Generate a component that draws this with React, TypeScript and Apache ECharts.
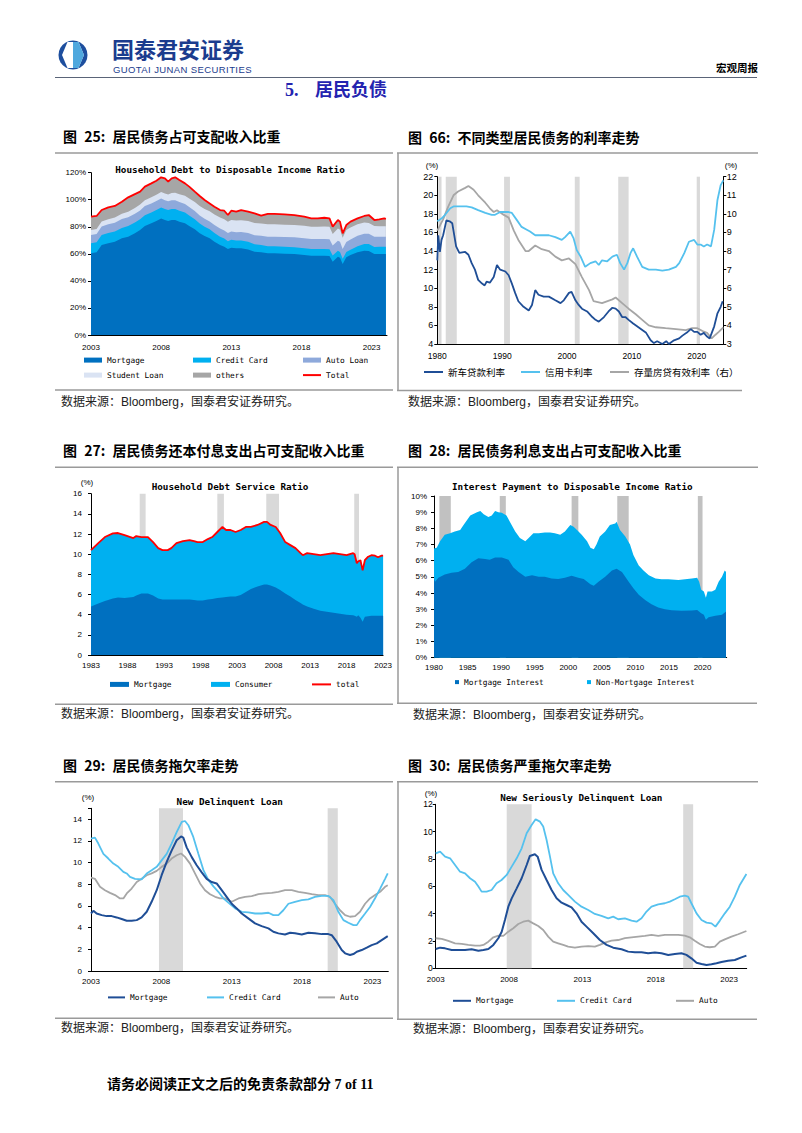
import React, { useEffect, useRef } from 'react';
import * as echarts from 'echarts';

// ---------------- 图 25: Household Debt to Disposable Income Ratio (%) ----------------
const yrs25 = [2003.0, 2003.4, 2003.76, 2004.23, 2004.7, 2005.2, 2005.65, 2006.13, 2006.5, 2006.84, 2007.3, 2007.66, 2008.0, 2008.27, 2008.5, 2008.75, 2009.0, 2009.3, 2009.7, 2010.0, 2010.4, 2010.75, 2011.1, 2011.46, 2011.8, 2012.2, 2012.5, 2012.76, 2013.0, 2013.35, 2013.7, 2014.2, 2014.66, 2015.13, 2015.6, 2016.08, 2016.8, 2017.5, 2018.2, 2018.7, 2019.16, 2019.63, 2020.0, 2020.23, 2020.6, 2020.75, 2020.94, 2021.2, 2021.5, 2022.0, 2022.48, 2022.8, 2023.2, 2023.55, 2023.9, 2024.02];
const mortgage25 = [60.4, 61.1, 66.5, 67.8, 69, 71.5, 72.7, 75.2, 77.6, 80.6, 82.6, 84.3, 86.2, 85, 84.3, 85, 85, 83.8, 82.6, 80.6, 78.1, 75.2, 73.2, 71.5, 69, 66.5, 65.3, 63.6, 64.6, 64.1, 64.1, 63.3, 61.6, 61.1, 60.4, 60.4, 60.1, 59.9, 59.1, 58.6, 58.6, 58.6, 58.4, 54.2, 57.9, 57.2, 52.5, 57.4, 59.1, 61.1, 62.3, 62.1, 59.9, 59.9, 59.9, 59.9];
const creditCard25 = [7.4, 7.4, 7.5, 7.6, 7.6, 7.7, 7.8, 7.9, 7.9, 8.0, 8.0, 8.1, 8.1, 8.1, 8.1, 8.2, 8.2, 8.1, 8.0, 7.8, 7.5, 7.2, 6.9, 6.6, 6.4, 6.2, 6.0, 5.8, 5.8, 5.7, 5.7, 5.6, 5.5, 5.4, 5.3, 5.2, 5.1, 5.0, 5.0, 4.9, 4.9, 5.0, 5.0, 4.6, 4.3, 4.2, 3.8, 3.9, 4.0, 4.5, 4.9, 5.1, 5.2, 5.3, 5.4, 5.4];
const autoLoan25 = [6.2, 6.2, 6.3, 6.4, 6.4, 6.5, 6.5, 6.6, 6.6, 6.7, 6.7, 6.7, 6.7, 6.6, 6.5, 6.5, 6.5, 6.4, 6.3, 6.2, 6.1, 6.0, 5.9, 5.9, 5.9, 6.0, 6.0, 6.0, 6.1, 6.2, 6.3, 6.5, 6.7, 6.9, 7.0, 7.1, 7.2, 7.3, 7.4, 7.4, 7.4, 7.4, 7.4, 7.3, 7.5, 7.5, 7.3, 7.5, 7.6, 7.7, 7.7, 7.6, 7.5, 7.4, 7.4, 7.4];
const studentLoan25 = [3.6, 3.6, 3.7, 3.8, 3.9, 4.0, 4.1, 4.2, 4.3, 4.4, 4.5, 4.6, 4.8, 4.9, 5.0, 5.2, 5.4, 5.7, 6.0, 6.3, 6.6, 6.9, 7.2, 7.5, 7.8, 8.1, 8.3, 8.3, 8.6, 8.7, 8.8, 8.9, 9.0, 9.0, 9.1, 9.2, 9.2, 9.2, 9.2, 9.2, 9.2, 9.2, 9.2, 8.6, 9.0, 8.9, 8.3, 8.8, 8.8, 8.6, 8.3, 8.1, 7.9, 7.8, 7.7, 7.7];
const others25 = [9.9, 9.7, 8.4, 8.8, 8.5, 8.9, 10.7, 10.3, 9.6, 10.0, 10.3, 10.4, 10.8, 11.2, 9.5, 10.9, 11.5, 10.6, 9.2, 8.8, 7.7, 7.5, 6.6, 5.8, 5.8, 5.6, 6.3, 5.0, 6.8, 6.5, 7.5, 6.9, 7.1, 5.8, 7.7, 7.6, 7.6, 7.3, 6.8, 6.1, 6.1, 6.5, 6.2, 5.4, 6.3, 6.0, 3.3, 3.7, 4.3, 4.3, 4.8, 5.8, 4.5, 5.1, 5.8, 5.4];
const total25 = [87.5, 88, 92.4, 94.4, 95.4, 98.6, 101.8, 104.2, 106, 109.7, 112.1, 114.1, 116.6, 115.8, 113.4, 115.8, 116.6, 114.6, 112.1, 109.7, 106, 102.8, 99.8, 97.3, 94.9, 92.4, 91.9, 88.7, 91.9, 91.2, 92.4, 91.2, 89.9, 88.2, 89.5, 89.5, 89.2, 88.7, 87.5, 86.2, 86.2, 86.7, 86.2, 80.1, 85, 83.8, 75.2, 81.3, 83.8, 86.2, 88, 88.7, 85, 85.5, 86.2, 85.8];
const names25 = ['Mortgage', 'Credit Card', 'Auto Loan', 'Student Loan', 'others'];
const colors25 = ['#0070C0', '#00B0F0', '#8EA9DB', '#DAE3F3', '#A6A6A6'];
const yTicks25 = { min: 0, max: 120, step: 20 };

// ---------------- 图 66: 不同类型居民债务的利率走势 ----------------
const carYrs66 = [1980.0, 1980.15, 1980.4, 1980.65, 1980.9, 1981.4, 1981.9, 1982.3, 1982.9, 1983.4, 1984.3, 1984.8, 1985.3, 1985.8, 1986.3, 1986.9, 1987.3, 1987.6, 1988.1, 1988.7, 1989.2, 1989.7, 1990.5, 1991.0, 1991.5, 1992.0, 1992.5, 1993.3, 1994.1, 1994.6, 1995.1, 1995.6, 1996.4, 1997.2, 1998.2, 1999.0, 1999.5, 2000.3, 2000.7, 2001.3, 2001.8, 2002.3, 2003.1, 2003.9, 2004.4, 2004.9, 2005.7, 2006.4, 2007.0, 2007.5, 2008.0, 2008.5, 2009.0, 2009.5, 2010.2, 2010.8, 2011.6, 2012.2, 2012.9, 2013.4, 2013.9, 2014.7, 2015.3, 2015.7, 2016.5, 2017.3, 2017.8, 2018.6, 2019.1, 2019.6, 2020.1, 2020.6, 2021.1, 2021.6, 2022.0, 2022.7, 2023.2, 2023.7, 2024.0];
const carLoan66 = [13.0, 15.7, 13.9, 15.2, 15.7, 17.3, 17.2, 17.0, 14.5, 13.8, 13.9, 13.6, 12.7, 12.0, 10.9, 10.5, 10.3, 10.7, 10.6, 11.2, 12.5, 12.0, 11.8, 11.4, 10.5, 9.5, 8.6, 8.0, 7.6, 8.2, 9.8, 9.3, 9.1, 9.1, 8.7, 8.4, 8.7, 9.5, 9.6, 8.7, 8.2, 7.8, 7.5, 6.9, 6.6, 6.4, 6.9, 7.5, 7.9, 7.8, 7.5, 6.9, 6.9, 6.6, 6.2, 5.9, 5.5, 5.2, 4.4, 4.1, 4.3, 4.0, 4.3, 4.0, 4.4, 4.6, 4.9, 5.3, 5.6, 5.3, 5.3, 5.0, 5.2, 4.8, 4.6, 5.9, 7.3, 8.0, 8.6];
const cardYrs66 = [1980.0, 1980.65, 1981.2, 1982.0, 1982.5, 1983.2, 1984.0, 1984.5, 1985.3, 1986.3, 1987.4, 1988.4, 1988.9, 1989.7, 1991.0, 1991.5, 1992.3, 1993.0, 1993.8, 1994.3, 1995.1, 1996.1, 1997.2, 1998.2, 1999.2, 1999.7, 2000.5, 2001.0, 2001.5, 2002.1, 2002.8, 2003.6, 2004.4, 2004.9, 2005.4, 2006.2, 2007.0, 2007.7, 2008.2, 2008.8, 2009.3, 2009.8, 2010.2, 2010.8, 2011.6, 2012.6, 2013.7, 2014.7, 2015.7, 2016.8, 2017.3, 2018.1, 2018.8, 2019.6, 2020.1, 2020.6, 2021.1, 2021.6, 2022.2, 2022.7, 2023.2, 2023.7, 2024.1];
const card66 = [17.2, 17.5, 17.9, 18.6, 18.8, 18.8, 18.8, 18.8, 18.7, 18.4, 18.1, 17.9, 17.9, 18.2, 18.2, 18.1, 17.3, 16.6, 16.3, 16.1, 15.7, 15.7, 15.7, 15.5, 15.2, 15.5, 16.1, 15.4, 14.1, 13.4, 12.3, 12.7, 12.9, 12.5, 13.0, 12.9, 13.4, 13.6, 12.7, 12.0, 12.7, 13.8, 14.3, 13.4, 12.3, 12.0, 12.0, 11.9, 12.0, 12.3, 12.7, 13.8, 15.0, 15.2, 14.7, 14.7, 14.5, 14.7, 14.5, 16.3, 19.5, 21.1, 21.6];
const mortYrs66 = [1980.0, 1980.9, 1981.7, 1982.5, 1983.2, 1984.3, 1984.8, 1985.6, 1986.3, 1987.4, 1988.1, 1988.7, 1989.2, 1990.0, 1991.0, 1991.8, 1992.5, 1993.6, 1994.1, 1995.1, 1996.1, 1997.2, 1998.2, 1999.2, 2000.3, 2001.3, 2002.3, 2003.4, 2004.1, 2005.4, 2007.0, 2007.5, 2008.5, 2009.5, 2010.6, 2011.6, 2012.6, 2013.7, 2015.2, 2016.8, 2018.3, 2019.3, 2020.1, 2020.9, 2021.6, 2022.3, 2022.9, 2023.4, 2024.1];
const mortRate66 = [9.1, 9.7, 10.4, 11.0, 11.2, 11.4, 11.5, 11.3, 11.0, 10.6, 10.3, 10.1, 10.2, 10.0, 9.8, 9.1, 8.6, 8.0, 8.0, 8.3, 8.1, 8.0, 7.7, 7.5, 7.6, 7.3, 6.6, 5.9, 5.3, 5.2, 5.4, 5.5, 5.2, 4.9, 4.6, 4.3, 4.0, 3.9, 3.85, 3.8, 3.75, 3.85, 3.85, 3.7, 3.6, 3.3, 3.5, 3.65, 3.9];
const bands66 = [[1980.15, 1980.65], [1981.3, 1983.0], [1990.3, 1991.2], [2001.2, 2001.95], [2007.9, 2009.5], [2020.0, 2020.5]];

// ---------------- 图 27: Household Debt Service Ratio ----------------
const yrs27 = [1983.0, 1984.0, 1984.9, 1986.0, 1986.7, 1987.6, 1988.8, 1989.2, 1989.9, 1990.8, 1991.5, 1992.2, 1992.8, 1993.5, 1994.0, 1994.7, 1995.6, 1996.5, 1997.1, 1997.6, 1998.3, 1999.0, 1999.6, 2000.3, 2001.0, 2001.5, 2002.1, 2002.8, 2003.5, 2004.2, 2004.9, 2005.8, 2006.7, 2007.1, 2007.6, 2008.3, 2008.9, 2009.6, 2010.3, 2011.0, 2011.7, 2012.0, 2012.6, 2013.5, 2014.4, 2015.3, 2016.2, 2017.1, 2018.0, 2018.9, 2019.1, 2019.4, 2019.6, 2019.9, 2020.2, 2020.5, 2020.95, 2021.4, 2021.9, 2022.3, 2022.8, 2023.0];
const total27 = [10.4, 11.1, 11.7, 12.07, 12.1, 11.9, 11.6, 11.8, 11.7, 11.7, 11.2, 10.6, 10.4, 10.4, 10.6, 11.1, 11.3, 11.4, 11.3, 11.2, 11.2, 11.5, 11.7, 12.2, 12.7, 12.4, 12.4, 12.2, 12.4, 12.7, 12.7, 12.9, 13.2, 13.2, 12.9, 12.7, 12.1, 11.2, 10.9, 10.6, 10.1, 9.9, 10.1, 10.0, 9.9, 10.0, 10.1, 10.0, 9.9, 10.1, 10.0, 9.1, 9.3, 9.4, 8.4, 9.4, 9.75, 9.9, 9.85, 9.7, 9.85, 9.85];
const mortgage27 = [4.8, 5.1, 5.35, 5.6, 5.7, 5.65, 5.75, 5.9, 6.1, 6.1, 5.9, 5.6, 5.5, 5.5, 5.5, 5.5, 5.5, 5.5, 5.45, 5.4, 5.4, 5.5, 5.55, 5.65, 5.7, 5.75, 5.8, 5.8, 5.95, 6.25, 6.55, 6.8, 7.0, 7.0, 6.9, 6.7, 6.45, 6.1, 5.8, 5.45, 5.15, 5.0, 4.8, 4.6, 4.4, 4.3, 4.2, 4.1, 4.0, 3.95, 3.9, 3.8, 3.95, 3.7, 3.3, 3.8, 3.85, 3.9, 3.9, 3.9, 3.9, 3.9];
const bands27 = [[1989.67, 1990.48], [2000.3, 2001.2], [2007.0, 2008.75], [2019.05, 2019.7]];

// ---------------- 图 28: Interest Payment to Disposable Income Ratio ----------------
const totYrs28 = [1980.0, 1980.4, 1980.9, 1981.6, 1982.4, 1983.1, 1983.9, 1984.4, 1984.9, 1985.4, 1986.4, 1986.9, 1987.4, 1988.1, 1988.6, 1989.1, 1989.6, 1990.1, 1990.8, 1991.3, 1992.1, 1992.8, 1993.6, 1994.1, 1994.8, 1995.6, 1996.5, 1997.3, 1998.0, 1998.8, 1999.5, 2000.3, 2000.8, 2001.3, 2002.0, 2002.8, 2003.3, 2003.8, 2004.2, 2004.7, 2005.5, 2006.2, 2007.0, 2007.2, 2007.7, 2008.5, 2009.2, 2009.7, 2010.5, 2011.2, 2012.0, 2013.0, 2013.9, 2014.9, 2016.4, 2017.4, 2018.4, 2019.2, 2019.5, 2019.8, 2020.2, 2020.5, 2020.75, 2021.4, 2021.9, 2022.4, 2022.9, 2023.3, 2023.5];
const total28 = [6.76, 6.8, 7.2, 7.6, 7.7, 7.8, 7.9, 8.2, 8.5, 8.8, 9.0, 9.07, 8.87, 8.7, 8.8, 9.07, 8.99, 8.97, 8.8, 8.4, 7.8, 7.4, 7.2, 7.4, 7.7, 7.7, 7.75, 7.75, 7.7, 7.6, 7.8, 8.2, 8.1, 7.9, 7.6, 7.2, 6.8, 6.7, 7.0, 7.5, 7.8, 8.2, 8.3, 8.4, 7.9, 7.5, 7.0, 6.35, 5.7, 5.4, 5.1, 4.9, 4.85, 4.85, 4.8, 4.85, 4.9, 4.95, 4.7, 4.2, 4.1, 3.7, 4.1, 4.1, 4.2, 4.7, 5.0, 5.4, 5.3];
const mortYrs28 = [1980.0, 1980.15, 1980.65, 1981.6, 1982.6, 1983.6, 1984.6, 1985.6, 1986.6, 1987.6, 1988.3, 1989.1, 1990.1, 1991.1, 1991.8, 1992.6, 1993.6, 1994.6, 1995.6, 1996.5, 1997.5, 1998.5, 1999.5, 2000.5, 2001.5, 2002.3, 2003.3, 2003.8, 2004.5, 2005.5, 2006.5, 2007.2, 2008.0, 2009.0, 2009.7, 2010.5, 2011.5, 2012.4, 2013.4, 2014.4, 2015.4, 2016.9, 2018.4, 2019.2, 2019.8, 2020.2, 2020.5, 2020.9, 2021.9, 2022.9, 2023.5];
const mortgage28 = [4.9, 4.7, 4.95, 5.15, 5.25, 5.3, 5.5, 5.9, 6.15, 6.1, 6.05, 6.2, 6.2, 6.05, 5.6, 5.3, 5.0, 5.1, 5.0, 5.0, 4.9, 4.87, 4.95, 5.07, 4.95, 4.87, 4.55, 4.45, 4.7, 5.0, 5.4, 5.5, 5.3, 4.7, 4.3, 3.9, 3.55, 3.3, 3.1, 3.0, 2.93, 2.9, 2.92, 2.95, 2.75, 2.65, 2.35, 2.5, 2.6, 2.65, 2.85];
const bands28 = [[1980.8, 1982.5], [1989.8, 1990.7], [2000.5, 2001.5], [2007.3, 2009.0], [2019.3, 2020.0]];

// ---------------- 图 29: New Delinquent Loan ----------------
const mortYrs29 = [2003.0, 2003.17, 2003.4, 2003.76, 2004.11, 2004.47, 2004.82, 2005.18, 2005.54, 2005.89, 2006.25, 2006.6, 2006.96, 2007.31, 2007.67, 2008.02, 2008.38, 2008.73, 2009.09, 2009.4, 2009.56, 2009.8, 2010.16, 2010.51, 2010.87, 2011.22, 2011.58, 2011.93, 2012.29, 2012.64, 2013.0, 2013.36, 2013.71, 2014.18, 2014.66, 2015.13, 2015.61, 2015.96, 2016.32, 2016.79, 2017.15, 2017.5, 2017.98, 2018.45, 2018.92, 2019.4, 2019.87, 2020.11, 2020.46, 2020.82, 2021.06, 2021.41, 2021.65, 2021.89, 2022.24, 2022.6, 2022.95, 2023.31, 2023.66, 2024.09];
const mortgage29 = [5.3, 5.55, 5.3, 5.15, 5.06, 5.06, 4.94, 4.79, 4.63, 4.63, 4.69, 4.94, 5.46, 6.38, 7.45, 8.83, 10.06, 11.1, 12.05, 12.4, 12.3, 11.4, 10.5, 9.75, 9.1, 8.5, 8.2, 8.07, 7.45, 6.84, 6.2, 5.77, 5.3, 4.85, 4.39, 4.14, 3.93, 3.62, 3.47, 3.37, 3.53, 3.47, 3.37, 3.53, 3.47, 3.4, 3.4, 3.3, 2.7, 1.93, 1.63, 1.47, 1.56, 1.78, 1.93, 2.15, 2.39, 2.55, 2.85, 3.22];
const cardYrs29 = [2003.0, 2003.28, 2003.52, 2003.88, 2004.23, 2004.59, 2004.94, 2005.3, 2005.54, 2005.77, 2006.13, 2006.6, 2006.96, 2007.31, 2007.67, 2008.02, 2008.38, 2008.73, 2009.09, 2009.45, 2009.68, 2009.92, 2010.27, 2010.63, 2010.99, 2011.34, 2011.7, 2012.05, 2012.41, 2012.76, 2013.24, 2013.71, 2014.18, 2014.66, 2015.13, 2015.61, 2015.96, 2016.32, 2016.67, 2017.03, 2017.5, 2017.98, 2018.45, 2018.92, 2019.4, 2019.87, 2020.23, 2020.58, 2020.94, 2021.29, 2021.65, 2021.89, 2022.12, 2022.48, 2022.83, 2023.19, 2023.55, 2023.9, 2024.09];
const card29 = [12.2, 12.3, 11.75, 10.8, 10.37, 9.9, 9.6, 9.14, 8.99, 8.68, 8.5, 8.44, 8.99, 9.29, 9.6, 10.2, 10.8, 11.75, 12.8, 13.74, 13.83, 13.44, 12.36, 10.8, 9.3, 8.4, 7.8, 7.3, 6.7, 6.3, 5.77, 5.46, 5.4, 5.3, 5.3, 5.37, 5.15, 5.15, 5.6, 6.2, 6.38, 6.53, 6.6, 6.84, 6.93, 6.93, 6.53, 5.46, 4.69, 4.45, 4.23, 4.23, 4.69, 5.3, 5.9, 6.7, 7.6, 8.5, 9.0];
const autoYrs29 = [2003.0, 2003.28, 2003.64, 2003.99, 2004.35, 2004.71, 2005.06, 2005.3, 2005.54, 2005.89, 2006.25, 2006.6, 2006.96, 2007.31, 2007.67, 2008.02, 2008.38, 2008.73, 2009.09, 2009.4, 2009.68, 2010.04, 2010.39, 2010.75, 2011.1, 2011.46, 2011.82, 2012.17, 2012.53, 2013.0, 2013.48, 2013.95, 2014.42, 2014.9, 2015.37, 2015.85, 2016.32, 2016.79, 2017.27, 2017.74, 2018.21, 2018.69, 2019.16, 2019.63, 2019.98, 2020.34, 2020.7, 2021.06, 2021.41, 2021.77, 2022.12, 2022.48, 2022.83, 2023.19, 2023.55, 2023.9, 2024.09];
const auto29 = [8.6, 8.5, 7.76, 7.45, 7.2, 7.0, 6.69, 6.69, 7.15, 7.6, 8.2, 8.5, 8.83, 9.0, 9.23, 9.6, 9.9, 10.37, 10.67, 10.83, 10.52, 9.9, 9.0, 8.07, 7.45, 7.08, 6.84, 6.69, 6.69, 6.38, 6.69, 6.84, 6.9, 7.08, 7.15, 7.2, 7.3, 7.45, 7.45, 7.3, 7.2, 7.08, 7.0, 7.0, 6.84, 6.2, 5.6, 5.15, 5.0, 5.06, 5.46, 6.2, 6.69, 7.0, 7.3, 7.76, 7.9];
const bands29 = [[2007.83, 2009.54], [2019.82, 2020.54]];

// ---------------- 图 30: New Seriously Delinquent Loan ----------------
const mortYrs30 = [2003.0, 2003.3, 2003.64, 2004.09, 2004.54, 2005.0, 2005.45, 2005.91, 2006.25, 2006.59, 2006.93, 2007.27, 2007.5, 2007.72, 2007.95, 2008.18, 2008.52, 2008.86, 2009.2, 2009.42, 2009.76, 2009.95, 2010.22, 2010.56, 2010.9, 2011.24, 2011.58, 2011.92, 2012.26, 2012.6, 2012.94, 2013.28, 2013.74, 2014.19, 2014.65, 2015.1, 2015.67, 2016.12, 2016.58, 2017.03, 2017.48, 2017.94, 2018.39, 2018.85, 2019.3, 2019.75, 2020.09, 2020.43, 2020.78, 2021.12, 2021.46, 2021.8, 2022.14, 2022.48, 2022.93, 2023.39, 2023.84, 2024.18];
const mortgage30 = [1.41, 1.51, 1.46, 1.34, 1.34, 1.34, 1.39, 1.29, 1.34, 1.41, 1.71, 2.2, 2.68, 3.54, 4.51, 5.12, 5.85, 6.59, 7.56, 8.22, 8.34, 8.17, 7.2, 6.46, 5.73, 5.12, 4.8, 4.63, 4.46, 4.02, 3.41, 3.05, 2.56, 2.07, 1.71, 1.51, 1.39, 1.22, 1.17, 1.17, 1.1, 1.15, 1.1, 0.98, 1.05, 1.1, 0.98, 0.73, 0.41, 0.32, 0.24, 0.29, 0.37, 0.46, 0.56, 0.61, 0.8, 0.93];
const cardYrs30 = [2003.0, 2003.3, 2003.64, 2003.98, 2004.32, 2004.66, 2005.0, 2005.34, 2005.68, 2005.91, 2006.13, 2006.47, 2006.81, 2007.15, 2007.49, 2007.84, 2008.18, 2008.52, 2008.86, 2009.2, 2009.54, 2009.81, 2010.11, 2010.33, 2010.56, 2010.79, 2011.01, 2011.35, 2011.69, 2012.03, 2012.49, 2012.94, 2013.4, 2013.85, 2014.3, 2014.76, 2015.1, 2015.44, 2015.9, 2016.35, 2016.69, 2017.03, 2017.37, 2017.71, 2018.17, 2018.62, 2018.96, 2019.3, 2019.64, 2019.98, 2020.21, 2020.43, 2020.78, 2021.12, 2021.46, 2021.8, 2022.07, 2022.37, 2022.71, 2023.05, 2023.39, 2023.73, 2024.18];
const card30 = [8.41, 8.54, 8.17, 8.05, 7.56, 7.07, 6.95, 6.59, 6.34, 5.98, 5.61, 5.61, 5.73, 6.22, 6.46, 6.83, 7.44, 8.05, 8.78, 9.88, 10.49, 10.9, 10.73, 10.37, 9.39, 8.17, 6.95, 6.22, 5.73, 5.37, 4.88, 4.51, 4.27, 3.98, 3.83, 3.66, 3.78, 3.59, 3.66, 3.49, 3.41, 3.66, 4.15, 4.51, 4.68, 4.76, 4.88, 5.05, 5.24, 5.32, 5.24, 4.76, 4.02, 3.54, 3.34, 3.29, 3.05, 3.49, 4.02, 4.51, 5.24, 6.1, 6.9];
const autoYrs30 = [2003.0, 2003.41, 2003.86, 2004.32, 2004.77, 2005.22, 2005.68, 2006.02, 2006.25, 2006.59, 2006.93, 2007.27, 2007.61, 2007.95, 2008.29, 2008.63, 2008.97, 2009.31, 2009.65, 2009.99, 2010.33, 2010.67, 2011.01, 2011.35, 2011.69, 2012.03, 2012.49, 2012.94, 2013.4, 2013.85, 2014.19, 2014.53, 2014.99, 2015.44, 2015.9, 2016.35, 2016.8, 2017.26, 2017.71, 2018.17, 2018.62, 2019.07, 2019.53, 2019.98, 2020.32, 2020.66, 2021.0, 2021.34, 2021.68, 2022.03, 2022.37, 2022.71, 2023.16, 2023.62, 2024.18];
const auto30 = [2.2, 2.15, 2.0, 1.83, 1.78, 1.71, 1.66, 1.66, 1.71, 1.95, 2.27, 2.39, 2.37, 2.68, 2.93, 3.24, 3.41, 3.49, 3.29, 3.1, 2.8, 2.32, 1.95, 1.83, 1.71, 1.59, 1.51, 1.59, 1.63, 1.59, 1.71, 1.88, 2.02, 2.07, 2.2, 2.27, 2.32, 2.37, 2.44, 2.37, 2.44, 2.44, 2.44, 2.39, 2.27, 2.02, 1.78, 1.59, 1.54, 1.59, 1.95, 2.12, 2.32, 2.49, 2.73];
const bands30 = [[2007.84, 2009.54], [2019.87, 2020.55]];

// ---------------- helpers ----------------
const MONO = '"DejaVu Sans Mono", monospace';
const SANS = '"Liberation Sans", Arial, sans-serif';
const CJK = '"Noto Sans CJK SC", sans-serif';
const SANS_CJK = '"Liberation Sans", "Noto Sans CJK SC", sans-serif';
const DARK_LINE = '#1F4E96';
const LIGHT_LINE = '#55C1EE';
const GRAY_LINE = '#A6A6A6';

const pairs = (xs: number[], ys: number[]) => xs.map((x, i) => [x, ys[i]]);

function xAxisOf(min: number, max: number, interval: number, margin: number, fs = 8) {
  return {
    type: 'value', min, max, interval,
    axisLine: { show: true, onZero: false, lineStyle: { color: '#000', width: 1 } },
    axisTick: { show: false },
    splitLine: { show: false },
    axisLabel: {
      margin, fontSize: fs, fontFamily: SANS, color: '#000', hideOverlap: false,
      formatter: (v: number) => (Math.abs((v - min) % interval) < 1e-6 ? String(Math.round(v)) : ''),
    },
  };
}

function yAxisOf(min: number, max: number, interval: number, margin: number, suffix = '', position = 'left', fs = 8) {
  return {
    type: 'value', min, max, interval, position,
    axisLine: { show: true, lineStyle: { color: '#000', width: 1 } },
    axisTick: { show: true, length: 3, lineStyle: { color: '#000' } },
    splitLine: { show: false },
    axisLabel: {
      margin, fontSize: fs, fontFamily: SANS, color: '#000',
      formatter: (v: number) => (Math.abs((v - min) % interval) < 1e-6 ? String(Math.round(v * 100) / 100) + suffix : ''),
    },
  };
}

function areaSeries(name: string, data: any[], color: string, extra: any = {}) {
  return {
    type: 'line', name, data, symbol: 'none', silent: true,
    lineStyle: { width: 0, color }, itemStyle: { color },
    areaStyle: { color, opacity: 1 }, ...extra,
  };
}

function lineSeries(name: string, data: any[], color: string, width: number, extra: any = {}) {
  return {
    type: 'line', name, data, symbol: 'none', silent: true,
    lineStyle: { width, color }, itemStyle: { color }, ...extra,
  };
}

function bandsArea(bands: number[][], color: string, z?: number) {
  const m: any = {
    silent: true, label: { show: false }, itemStyle: { color, borderWidth: 0 },
    data: bands.map(([a, b]) => [{ xAxis: a }, { xAxis: b }]),
  };
  if (z !== undefined) m.z = z;
  return m;
}

// every legend icon is a plain rectangle (a thin one stands for a line)
function legendOf(name: string, left: number, yc: number, w: number, h: number, fs: number, family: string, color: string) {
  const boxH = Math.max(h, fs);
  return {
    show: true, selectedMode: false, left, top: yc - boxH / 2, padding: 0, itemGap: 0,
    itemWidth: w, itemHeight: h,
    textStyle: { fontSize: fs, fontFamily: family, color: '#000' },
    data: [{ name, icon: 'rect', itemStyle: { color, borderWidth: 0 } }],
  };
}

function txt(x: number, y: number, text: string, fs: number, opts: any = {}) {
  return {
    type: 'text', x, y, silent: true,
    style: {
      text, fontSize: fs, fontFamily: opts.family || SANS, fontWeight: opts.weight || 'normal',
      fill: opts.color || '#000', align: opts.align || 'center', verticalAlign: 'middle',
    },
  };
}

// ---------------- options ----------------
const layers25 = [mortgage25, creditCard25, autoLoan25, studentLoan25, others25];
const cum25 = names25.map((_, k) =>
  yrs25.map((_, i) => {
    let s = 0;
    for (let j = 0; j <= k; j++) s += layers25[j][i];
    return Math.round(s * 100) / 100;
  })
);

const option25 = {
  animation: false,
  grid: { left: 36, top: 17.7, width: 296, height: 162.3, containLabel: false },
  xAxis: xAxisOf(2003, 2024.1, 5, 8),
  yAxis: yAxisOf(yTicks25.min, yTicks25.max, yTicks25.step, 5, '%'),
  series: [
    ...[4, 3, 2, 1, 0].map((k) => areaSeries(names25[k], pairs(yrs25, cum25[k]), colors25[k])),
    lineSeries('Total', pairs(yrs25, total25), '#FF0000', 1.8),
  ],
  legend: [
    legendOf('Mortgage', 29, 205, 18, 5, 7.8, MONO, colors25[0]),
    legendOf('Credit Card', 138, 205, 18, 5, 7.8, MONO, colors25[1]),
    legendOf('Auto Loan', 248, 205, 18, 5, 7.8, MONO, colors25[2]),
    legendOf('Student Loan', 29, 220, 18, 5, 7.8, MONO, colors25[3]),
    legendOf('others', 138, 220, 18, 5, 7.8, MONO, colors25[4]),
    legendOf('Total', 248, 220, 18, 2, 7.8, MONO, '#FF0000'),
  ],
  graphic: [txt(175, 14, 'Household Debt to Disposable Income Ratio', 9.3, { family: MONO, weight: 'bold' })],
};

const option66 = {
  animation: false,
  grid: { left: 38.3, top: 21.7, width: 286, height: 167.3, containLabel: false },
  xAxis: xAxisOf(1980, 2024.1, 10, 7, 8.5),
  yAxis: [yAxisOf(4, 22, 2, 4, '', 'left', 9), yAxisOf(3, 12, 1, 3.5, '', 'right', 9)],
  series: [
    lineSeries('存量房贷有效利率（右）', pairs(mortYrs66, mortRate66), GRAY_LINE, 1.8, {
      yAxisIndex: 1, markArea: bandsArea(bands66, '#D9D9D9'),
    }),
    lineSeries('信用卡利率', pairs(cardYrs66, card66), LIGHT_LINE, 1.8),
    lineSeries('新车贷款利率', pairs(carYrs66, carLoan66), DARK_LINE, 1.8),
  ],
  legend: [
    legendOf('新车贷款利率', 25, 217, 19, 2, 9.5, CJK, DARK_LINE),
    legendOf('信用卡利率', 122, 217, 19, 2, 9.5, CJK, LIGHT_LINE),
    legendOf('存量房贷有效利率（右）', 211, 217, 19, 2, 9.5, CJK, GRAY_LINE),
  ],
  graphic: [txt(33, 10, '(%)', 8), txt(332, 10, '(%)', 8)],
};

const option27 = {
  animation: false,
  grid: { left: 36, top: 24.7, width: 294, height: 161.3, containLabel: false },
  xAxis: xAxisOf(1983, 2023, 5, 6),
  yAxis: yAxisOf(0, 16, 2, 9, ''),
  series: [
    areaSeries('Consumer', pairs(yrs27, total27), '#00B0F0', { markArea: bandsArea(bands27, '#D9D9D9') }),
    areaSeries('Mortgage', pairs(yrs27, mortgage27), '#0070C0'),
    lineSeries('total', pairs(yrs27, total27), '#FF0000', 1.8),
  ],
  legend: [
    legendOf('Mortgage', 55, 215.3, 19, 5, 7.8, MONO, '#0070C0'),
    legendOf('Consumer', 156, 215.3, 19, 5, 7.8, MONO, '#00B0F0'),
    legendOf('total', 257, 215.3, 19, 2, 7.8, MONO, '#FF0000'),
  ],
  graphic: [
    txt(32, 13, '(%)', 8),
    txt(175, 17.7, 'Household Debt Service Ratio', 9.3, { family: MONO, weight: 'bold' }),
  ],
};

const option28 = {
  animation: false,
  grid: { left: 35, top: 27, width: 292.7, height: 161.7, containLabel: false },
  xAxis: xAxisOf(1980, 2023.6, 5, 6),
  yAxis: yAxisOf(0, 10, 1, 7, '%'),
  series: [
    areaSeries('Non-Mortgage Interest', pairs(totYrs28, total28), '#00B0F0'),
    areaSeries('Mortgage Interest', pairs(mortYrs28, mortgage28), '#0070C0', {
      markArea: bandsArea(bands28, 'rgba(163,163,163,0.68)', 3),
    }),
  ],
  legend: [
    legendOf('Mortgage Interest', 56, 213, 4, 4, 7.8, MONO, '#0070C0'),
    legendOf('Non-Mortgage Interest', 188, 213, 4, 4, 7.8, MONO, '#00B0F0'),
  ],
  graphic: [txt(173.3, 17.7, 'Interest Payment to Disposable Income Ratio', 9.3, { family: MONO, weight: 'bold' })],
};

const option29 = {
  animation: false,
  grid: { left: 36, top: 24.3, width: 297.3, height: 162.7, containLabel: false },
  xAxis: xAxisOf(2003, 2024.13, 5, 6),
  yAxis: yAxisOf(0, 15, 2, 9, ''),
  series: [
    lineSeries('Auto', pairs(autoYrs29, auto29), GRAY_LINE, 1.8, { markArea: bandsArea(bands29, '#D9D9D9') }),
    lineSeries('Credit Card', pairs(cardYrs29, card29), LIGHT_LINE, 1.8),
    lineSeries('Mortgage', pairs(mortYrs29, mortgage29), DARK_LINE, 2),
  ],
  legend: [
    legendOf('Mortgage', 53, 213.3, 17, 2, 7.8, MONO, DARK_LINE),
    legendOf('Credit Card', 152, 213.3, 17, 2, 7.8, MONO, LIGHT_LINE),
    legendOf('Auto', 263, 213.3, 17, 2, 7.8, MONO, GRAY_LINE),
  ],
  graphic: [
    txt(33, 13, '(%)', 8),
    txt(174.7, 17.7, 'New Delinquent Loan', 9.3, { family: MONO, weight: 'bold' }),
  ],
};

const option30 = {
  animation: false,
  grid: { left: 36.7, top: 20.3, width: 311, height: 164, containLabel: false },
  xAxis: xAxisOf(2003, 2024.2, 5, 7),
  yAxis: yAxisOf(0, 12, 2, 3, '', 'left', 8.5),
  series: [
    lineSeries('Auto', pairs(autoYrs30, auto30), GRAY_LINE, 1.8, { markArea: bandsArea(bands30, '#D9D9D9') }),
    lineSeries('Credit Card', pairs(cardYrs30, card30), LIGHT_LINE, 1.8),
    lineSeries('Mortgage', pairs(mortYrs30, mortgage30), DARK_LINE, 2),
  ],
  legend: [
    legendOf('Mortgage', 54, 216.7, 18, 2, 7.8, MONO, DARK_LINE),
    legendOf('Credit Card', 158, 216.7, 18, 2, 7.8, MONO, LIGHT_LINE),
    legendOf('Auto', 277, 216.7, 18, 2, 7.8, MONO, GRAY_LINE),
  ],
  graphic: [
    txt(32, 9, '(%)', 8),
    txt(182.3, 13.7, 'New Seriously Delinquent Loan', 9.3, { family: MONO, weight: 'bold' }),
  ],
};

// ---------------- page decoration (logo + rules) ----------------
const RULE = '#9A9A9A';
const hl = (x1: number, x2: number, y: number, color = RULE, w = 1.5) => ({
  type: 'line', silent: true, shape: { x1, y1: y, x2, y2: y }, style: { stroke: color, lineWidth: w },
});
const vl = (x: number, y1: number, y2: number) => ({
  type: 'line', silent: true, shape: { x1: x, y1, x2: x, y2 }, style: { stroke: RULE, lineWidth: 1.5 },
});

const pageOption = {
  animation: false,
  graphic: [
    { type: 'circle', silent: true, shape: { cx: 73, cy: 55, r: 14.5 }, style: { fill: '#1D4E9E' } },
    { type: 'polygon', silent: true, shape: { points: [[67.5, 42], [78.5, 42], [84, 55], [78.5, 68], [67.5, 68], [62, 55]] }, style: { fill: '#FFFFFF' } },
    { type: 'polygon', silent: true, shape: { points: [[73, 42], [78.5, 42], [84, 55], [78.5, 68], [73, 68]] }, style: { fill: '#4FA8DE' } },
    hl(55, 757, 77.5, '#5A6478', 1),
    hl(55, 393, 153), hl(55, 393, 390),
    hl(397, 758, 153), vl(398, 153, 390.5), hl(397, 742, 390.5),
    hl(55, 393, 467.3), hl(55, 393, 704.3),
    hl(397, 758, 467.3), vl(398, 467.3, 703.3), hl(397, 757, 703.3),
    hl(55, 393, 781.7), hl(55, 393, 1018.3),
    hl(397, 758, 781.7), vl(398, 781.7, 1019.3), hl(397, 757, 1019.3),
  ],
};

// ---------------- components ----------------
function EC({ option, left, top, width, height }: any) {
  const ref = useRef<HTMLDivElement>(null);
  useEffect(() => {
    const inst = echarts.init(ref.current as HTMLDivElement, undefined, { renderer: 'svg' });
    inst.setOption(option);
    return () => inst.dispose();
  }, []);
  return <div ref={ref} style={{ position: 'absolute', left, top, width, height }} />;
}

function T({ x, y, text, size, weight = 'normal', color = '#000', family = CJK, ws = 0, ls = 0, lhk = 1.25 }: any) {
  const lh = Math.round(size * lhk * 10) / 10;
  return (
    <div
      style={{
        position: 'absolute', left: x, top: y - lh / 2, height: lh, lineHeight: lh + 'px',
        fontSize: size, fontWeight: weight, color, fontFamily: family, whiteSpace: 'pre',
        wordSpacing: ws, letterSpacing: ls,
      }}
    >
      {text}
    </div>
  );
}

const SRC = '数据来源：Bloomberg，国泰君安证券研究。';

export default function App() {
  return (
    <div style={{ position: 'absolute', left: 0, top: 0, width: 802, height: 1133, background: '#fff', overflow: 'hidden' }}>
      <EC option={pageOption} left={0} top={0} width={802} height={1133} />

      <T x={112} y={51.6} text="国泰君安证券" size={22} weight="bold" color="#1B3C8E" family={SANS_CJK} lhk={1.117} />
      <T x={113} y={70.3} text="GUOTAI JUNAN SECURITIES" size={9.5} color="#1B3C8E" family={SANS} ls={0.4} lhk={1.117} />
      <T x={716} y={68} text="宏观周报" size={10.5} weight="bold" />
      <T x={285} y={90.5} text="5. 居民负债" size={18} weight="bold" color="#2424B0" family={'"Liberation Serif", "Noto Sans CJK SC", serif'} ws={12} />

      <T x={63} y={137} text="图 25: 居民债务占可支配收入比重" size={14} weight="bold" ws={4} />
      <T x={408} y={137.5} text="图 66: 不同类型居民债务的利率走势" size={14} weight="bold" ws={4} />
      <T x={63} y={451} text="图 27: 居民债务还本付息支出占可支配收入比重" size={14} weight="bold" ws={4} />
      <T x={408} y={451} text="图 28: 居民债务利息支出占可支配收入比重" size={14} weight="bold" ws={4} />
      <T x={63} y={766} text="图 29: 居民债务拖欠率走势" size={14} weight="bold" ws={4} />
      <T x={408} y={766} text="图 30: 居民债务严重拖欠率走势" size={14} weight="bold" ws={4} />

      <T x={61} y={402} text={SRC} size={12} color="#222" family={SANS_CJK} />
      <T x={408} y={402} text={SRC} size={12} color="#222" family={SANS_CJK} />
      <T x={61} y={714} text={SRC} size={12} color="#222" family={SANS_CJK} />
      <T x={413} y={715} text={SRC} size={12} color="#222" family={SANS_CJK} />
      <T x={61} y={1028} text={SRC} size={12} color="#222" family={SANS_CJK} />
      <T x={413} y={1029} text={SRC} size={12} color="#222" family={SANS_CJK} />

      <T x={107} y={1085} text="请务必阅读正文之后的免责条款部分 7 of 11" size={14} weight="bold" family={'"Liberation Serif", "Noto Sans CJK SC", serif'} />

      <EC option={option25} left={55} top={155} width={340} height={233} />
      <EC option={option66} left={399} top={155} width={360} height={233} />
      <EC option={option27} left={55} top={469} width={340} height={233} />
      <EC option={option28} left={399} top={469} width={360} height={233} />
      <EC option={option29} left={55} top={784} width={340} height={233} />
      <EC option={option30} left={399} top={784} width={360} height={233} />
    </div>
  );
}
